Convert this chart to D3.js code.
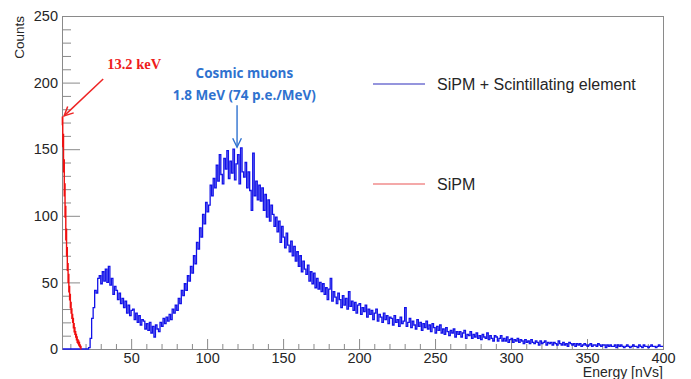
<!DOCTYPE html>
<html>
<head>
<meta charset="utf-8">
<script src="https://cdn.jsdelivr.net/npm/d3@7"></script>
<style>
  html, body { margin: 0; padding: 0; background: #fff; }
  svg { display: block; font-family: "Liberation Sans", Arial, sans-serif; }
</style>
</head>
<body>
<div id="container"></div>
<script>
// SiPM + scintillating element, bins of 1 nVs starting at 5 nVs
const blueStart = 5;
const blueBinWidth = 1;
const blueCounts = [
  0, 0, 0, 0, 0, 0, 0, 0, 0, 0,
  0, 0, 0, 0, 0, 0, 0, 1, 8, 23,
  31, 44, 42, 53, 55, 49, 58, 51, 60, 50,
  62, 48, 53, 41, 47, 44, 37, 42, 34, 38,
  31, 36, 27, 33, 25, 29, 30, 22, 27, 20,
  25, 18, 22, 21, 15, 19, 14, 20, 12, 17,
  9, 18, 15, 13, 20, 17, 23, 19, 24, 21,
  26, 22, 30, 27, 33, 29, 38, 34, 44, 40,
  49, 44, 55, 51, 62, 57, 70, 64, 80, 75,
  91, 84, 101, 94, 110, 103, 108, 123, 115, 128,
  121, 138, 126, 146, 131, 124, 143, 135, 149, 128,
  141, 132, 150, 127, 139, 146, 124, 151, 133, 129,
  140, 121, 133, 119, 104, 147, 115, 126, 112, 123,
  111, 121, 104, 116, 99, 112, 96, 108, 101, 92,
  99, 88, 96, 80, 92, 84, 76, 87, 78, 73,
  81, 70, 77, 66, 73, 62, 70, 58, 66, 60,
  56, 63, 51, 58, 49, 57, 46, 53, 45, 50,
  43, 49, 41, 46, 37, 45, 53, 36, 43, 39,
  34, 42, 37, 31, 40, 33, 38, 30, 43, 32,
  36, 29, 35, 27, 33, 34, 26, 31, 28, 33,
  24, 30, 26, 29, 22, 27, 30, 21, 26, 24,
  20, 27, 22, 25, 19, 24, 23, 18, 25, 20,
  22, 17, 24, 19, 21, 31, 17, 20, 23, 16,
  21, 18, 15, 22, 17, 20, 14, 19, 16, 21,
  15, 18, 13, 19, 16, 12, 17, 14, 18, 12,
  15, 11, 16, 13, 10, 14, 12, 15, 9, 13,
  11, 13, 9, 12, 14, 8, 11, 10, 13, 8,
  11, 9, 12, 8, 10, 7, 11, 9, 8, 12,
  7, 10, 8, 6, 10, 9, 6, 8, 10, 6,
  8, 6, 9, 5, 7, 8, 5, 7, 6, 8,
  5, 7, 6, 4, 7, 5, 6, 4, 7, 5,
  4, 6, 5, 3, 6, 4, 5, 6, 3, 5,
  4, 5, 3, 5, 4, 3, 6, 4, 3, 5,
  3, 4, 2, 5, 4, 3, 4, 2, 4, 3,
  4, 2, 3, 4, 3, 2, 3, 4, 2, 3,
  3, 2, 4, 3, 2, 3, 3, 1, 3, 2,
  3, 2, 2, 3, 1, 3, 2, 3, 2, 1,
  2, 3, 2, 1, 2, 3, 2, 2, 1, 3,
  2, 1, 3, 2, 2, 1, 2, 3, 2, 2,
  1, 2, 3, 2, 2
];

// SiPM alone, bins of 0.25 nVs starting at 4.5 nVs
const redStart = 4.5;
const redBinWidth = 0.25;
const redCounts = [
  168, 174, 152, 161, 133, 142, 115, 124, 99, 107,
  82, 90, 70, 76, 59, 64, 50, 56, 43, 47,
  37, 41, 31, 35, 27, 30, 23, 26, 20, 23,
  16, 19, 13, 16, 11, 13, 9, 11, 7, 9,
  5, 7, 4, 6, 3, 5, 2, 3, 1, 2, 0
];

const xDomain = [4.5, 400];
const yDomain = [0, 250];
const xMajorTicks = [50, 100, 150, 200, 250, 300, 350, 400];
const xMinorTicks = [10, 20, 30, 40, 60, 70, 80, 90, 110, 120, 130, 140, 160, 170, 180, 190,
  210, 220, 230, 240, 260, 270, 280, 290, 310, 320, 330, 340, 360, 370, 380, 390];
const yMajorTicks = [0, 50, 100, 150, 200, 250];
const yMinorTicks = [10, 20, 30, 40, 60, 70, 80, 90, 110, 120, 130, 140, 160, 170, 180, 190,
  210, 220, 230, 240];
const xTitle = 'Energy [nVs]';
const yTitle = 'Counts';
const legendLabels = ['SiPM + Scintillating element', 'SiPM'];
const peakNote = ['Cosmic muons', '1.8 MeV (74 p.e./MeV)'];
const sipmNote = '13.2 keV';

const width = 691;
const height = 379;
const frame = { left: 62, right: 663, top: 16, bottom: 349 };

const svg = d3.select('#container')
  .append('svg')
  .attr('width', width)
  .attr('height', height);

svg.append('rect').attr('width', width).attr('height', height).attr('fill', '#fff');

const x = d3.scaleLinear().domain(xDomain).range([frame.left, frame.right]);
const y = d3.scaleLinear().domain(yDomain).range([frame.bottom, frame.top]);

const axisColor = '#8a8a8a';
const labelColor = '#262626';

// frame
svg.append('rect')
  .attr('x', frame.left + 0.5)
  .attr('y', frame.top + 0.5)
  .attr('width', frame.right - frame.left)
  .attr('height', frame.bottom - frame.top)
  .attr('fill', 'none')
  .attr('stroke', axisColor);

function styleAxis(g) {
  g.select('.domain').remove();
  g.selectAll('line').attr('stroke', axisColor);
  g.selectAll('text')
    .attr('fill', labelColor)
    .style('font-size', '14.5px')
    .style('font-family', '"Liberation Sans", Arial, sans-serif');
}

// x axis (ticks point inwards)
svg.append('g')
  .attr('transform', `translate(0,${frame.bottom})`)
  .call(d3.axisBottom(x).tickValues(xMinorTicks).tickSize(-5).tickFormat(''))
  .call(styleAxis);
svg.append('g')
  .attr('transform', `translate(0,${frame.bottom})`)
  .call(d3.axisBottom(x).tickValues(xMajorTicks).tickSize(-10).tickPadding(4).tickFormat(d3.format('d')))
  .call(styleAxis);

// y axis
svg.append('g')
  .attr('transform', `translate(${frame.left},0)`)
  .call(d3.axisLeft(y).tickValues(yMinorTicks).tickSize(-9).tickFormat(''))
  .call(styleAxis);
svg.append('g')
  .attr('transform', `translate(${frame.left},0)`)
  .call(d3.axisLeft(y).tickValues(yMajorTicks).tickSize(-18).tickPadding(4).tickFormat(d3.format('d')))
  .call(styleAxis);

// axis titles
svg.append('text')
  .attr('x', frame.right)
  .attr('y', 377)
  .attr('text-anchor', 'end')
  .attr('fill', labelColor)
  .style('font-size', '14px')
  .text(xTitle);

svg.append('text')
  .attr('transform', `translate(24,${frame.top}) rotate(-90)`)
  .attr('text-anchor', 'end')
  .attr('fill', labelColor)
  .style('font-size', '13.5px')
  .text(yTitle);

// histograms drawn as steps
const toSteps = (start, w, counts) => {
  const pts = [];
  counts.forEach((c, i) => {
    pts.push([start + i * w, c]);
    pts.push([start + (i + 1) * w, c]);
  });
  return pts;
};
const stepLine = d3.line()
  .x((d) => x(Math.min(d[0], xDomain[1])))
  .y((d) => y(d[1]));

const plot = svg.append('g');

plot.append('path')
  .datum(toSteps(blueStart, blueBinWidth, blueCounts))
  .attr('fill', 'none')
  .attr('stroke', '#1212e8')
  .attr('stroke-width', 1.3)
  .attr('d', stepLine);

plot.append('path')
  .datum(toSteps(redStart, redBinWidth, redCounts))
  .attr('fill', 'none')
  .attr('stroke', '#f01010')
  .attr('stroke-width', 1.4)
  .attr('d', stepLine);

// legend
const legend = svg.append('g');
const legendColors = ['#7272d2', '#f08c8c'];
const legendY = [84, 184];
legendLabels.forEach((label, i) => {
  legend.append('line')
    .attr('x1', 373).attr('x2', 425)
    .attr('y1', legendY[i]).attr('y2', legendY[i])
    .attr('stroke', legendColors[i])
    .attr('stroke-width', 1.5);
  legend.append('text')
    .attr('x', 437)
    .attr('y', legendY[i] + 5.5)
    .attr('fill', labelColor)
    .style('font-size', '16px')
    .text(label);
});

// arrows with open heads
function arrow(g, from, to, color, width) {
  const x1 = x(from[0]), y1 = y(from[1]), x2 = x(to[0]), y2 = y(to[1]);
  const a = Math.atan2(y2 - y1, x2 - x1);
  const len = 10, spread = 0.45;
  g.append('path')
    .attr('d', `M${x1},${y1}L${x2},${y2}`)
    .attr('stroke', color).attr('stroke-width', width).attr('fill', 'none');
  g.append('path')
    .attr('d', `M${x2 - len * Math.cos(a - spread)},${y2 - len * Math.sin(a - spread)}` +
      `L${x2},${y2}L${x2 - len * Math.cos(a + spread)},${y2 - len * Math.sin(a + spread)}`)
    .attr('stroke', color).attr('stroke-width', width).attr('fill', 'none');
}

const notes = svg.append('g');

// 13.2 keV note
notes.append('text')
  .attr('x', x(52))
  .attr('y', y(210))
  .attr('text-anchor', 'middle')
  .attr('fill', '#ee1c1c')
  .style('font-family', '"Liberation Serif", "Times New Roman", serif')
  .style('font-weight', 'bold')
  .style('font-size', '14.5px')
  .text(sipmNote);
arrow(notes, [31.6, 202.7], [5.9, 175], '#ee2424', 1.5);

// cosmic muon note
const muonColor = '#2f72cf';
peakNote.forEach((line, i) => {
  notes.append('text')
    .attr('x', x(124.5))
    .attr('y', y(i === 0 ? 203.5 : 187))
    .attr('text-anchor', 'middle')
    .attr('fill', muonColor)
    .style('font-family', '"Open Sans", "Noto Sans", sans-serif')
    .style('font-weight', 'bold')
    .style('font-size', '13.5px')
    .text(line);
});
arrow(notes, [119.7, 183], [119.7, 151.5], muonColor, 1.4);
</script>
</body>
</html>
